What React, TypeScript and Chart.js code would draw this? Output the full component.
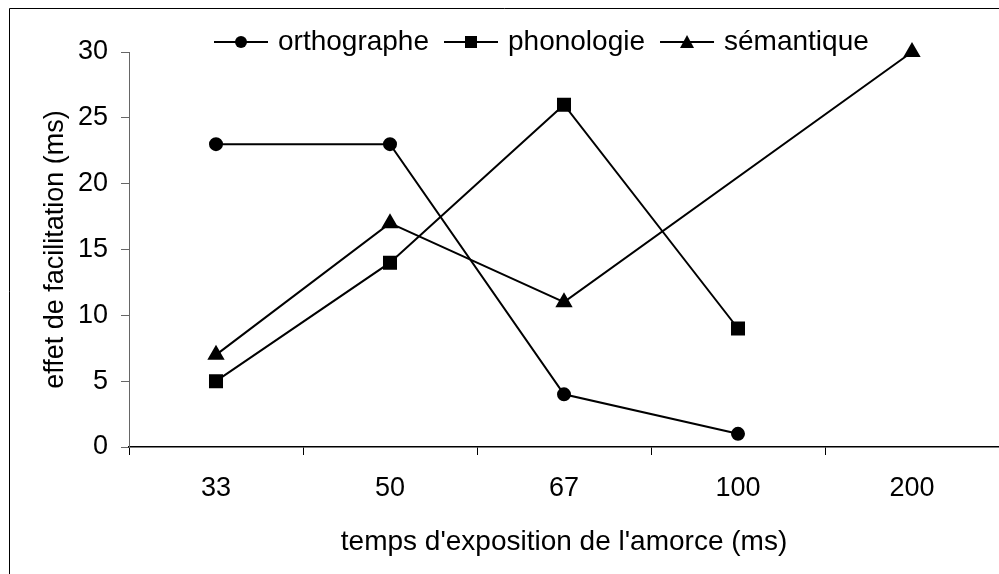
import React, { useEffect, useRef } from "react";
import { Chart, registerables } from "chart.js";

Chart.register(...registerables);

const categories = ["33", "50", "67", "100", "200"];
const seriesNames = ["orthographe", "phonologie", "sémantique"];
const orthographe = [23, 23, 4, 1, null];
const phonologie = [5, 14, 26, 9, null];
const semantique = [7, 17, 11, null, 30];
const yTicks = [0, 5, 10, 15, 20, 25, 30];
const xTitle = "temps d'exposition de l'amorce (ms)";
const yTitle = "effet de facilitation (ms)";

const FONT = "'Liberation Sans', Arial, sans-serif";

const framePlugin = {
  id: "frame",
  beforeDraw(chart: any) {
    const ctx = chart.ctx;
    ctx.save();
    ctx.fillStyle = "#ffffff";
    ctx.fillRect(0, 0, chart.width, chart.height);
    ctx.strokeStyle = "#000000";
    ctx.lineWidth = 1;
    ctx.beginPath();
    ctx.moveTo(9.5, chart.height + 5);
    ctx.lineTo(9.5, 8.5);
    ctx.lineTo(chart.width + 5, 8.5);
    ctx.stroke();
    ctx.restore();
  },
};

function drawMarker(ctx: CanvasRenderingContext2D, style: string, x: number, y: number) {
  ctx.beginPath();
  if (style === "circle") {
    ctx.arc(x, y, 6, 0, Math.PI * 2);
  } else if (style === "rect") {
    ctx.rect(x - 6, y - 6, 12, 12);
  } else {
    ctx.moveTo(x, y - 7);
    ctx.lineTo(x + 7, y + 6);
    ctx.lineTo(x - 7, y + 6);
    ctx.closePath();
  }
  ctx.fill();
}

const legendPlugin = {
  id: "customLegend",
  afterDraw(chart: any) {
    const ctx = chart.ctx;
    ctx.save();
    ctx.font = `28px ${FONT}`;
    ctx.textBaseline = "middle";
    ctx.fillStyle = "#000";
    ctx.strokeStyle = "#000";
    ctx.lineWidth = 2;
    const y = 42;
    let x = 214;
    chart.data.datasets.forEach((ds: any) => {
      ctx.beginPath();
      ctx.moveTo(x, y);
      ctx.lineTo(x + 54, y);
      ctx.stroke();
      drawMarker(ctx, ds.pointStyle, x + 27, y);
      const tx = x + 64;
      ctx.fillText(ds.label, tx, y);
      x = tx + ctx.measureText(ds.label).width + 15;
    });
    ctx.restore();
  },
};

export default function App() {
  const ref = useRef<HTMLCanvasElement>(null);
  useEffect(() => {
    if (!ref.current) return;
    const common = {
      borderColor: "#000",
      backgroundColor: "#000",
      pointBackgroundColor: "#000",
      pointBorderColor: "#000",
      borderWidth: 2,
      spanGaps: true,
      tension: 0,
      clip: false as any,
    };
    const chart = new Chart(ref.current, {
      type: "line",
      data: {
        labels: categories,
        datasets: [
          { ...common, label: seriesNames[0], data: orthographe, pointStyle: "circle", pointRadius: 6 },
          { ...common, label: seriesNames[1], data: phonologie, pointStyle: "rect", pointRadius: 8.5 },
          { ...common, label: seriesNames[2], data: semantique, pointStyle: "triangle", pointRadius: 8 },
        ],
      },
      options: {
        animation: false,
        responsive: false,
        devicePixelRatio: 1,
        layout: { autoPadding: false, padding: { top: 52, left: 0, right: 0, bottom: 0 } },
        plugins: { legend: { display: false }, tooltip: { enabled: false } },
        scales: {
          x: {
            offset: true,
            grid: { offset: true, drawOnChartArea: false, drawTicks: true, tickLength: 8, color: "#000" },
            border: { color: "#000", width: 1.5 },
            ticks: { color: "#000", font: { family: FONT, size: 27 }, padding: 17, maxRotation: 0 },
            title: { display: true, text: xTitle, color: "#000", font: { family: FONT, size: 28 }, padding: { top: 0, bottom: 15 } },
            afterFit: (s: any) => { s.height = 127; s.paddingLeft = 0; s.paddingRight = 0; },
          },
          y: {
            min: 0,
            max: 30,
            afterBuildTicks: (s: any) => { s.ticks = yTicks.map((v) => ({ value: v })); },
            grid: { drawOnChartArea: false, drawTicks: true, tickLength: 8, color: "#666" },
            border: { color: "#666", width: 1 },
            ticks: { color: "#000", font: { family: FONT, size: 27 }, padding: 13 },
            title: { display: true, text: yTitle, color: "#000", font: { family: FONT, size: 27 }, padding: { top: 39, bottom: 0 } },
            afterFit: (s: any) => { s.width = 129; s.paddingTop = 0; s.paddingBottom = 0; },
          },
        },
      },
      plugins: [framePlugin, legendPlugin],
    });
    return () => chart.destroy();
  }, []);
  return (
    <div style={{ position: "absolute", left: 0, top: 0, width: 999, height: 574 }}>
      <canvas ref={ref} width={999} height={574} style={{ width: 999, height: 574, display: "block" }} />
    </div>
  );
}
